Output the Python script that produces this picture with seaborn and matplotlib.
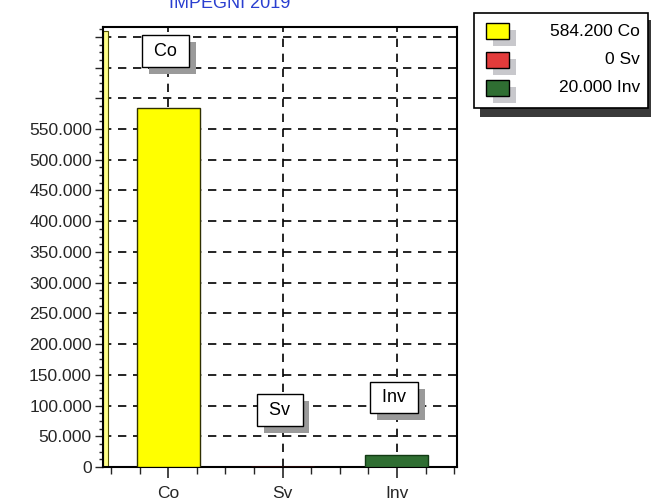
import matplotlib
matplotlib.use("Agg")
import matplotlib.pyplot as plt
import matplotlib.patheffects as pe
from matplotlib.patches import Rectangle
import numpy as np
import pandas as pd
import seaborn as sns

# dati del grafico
categorie = ["Co", "Sv", "Inv"]
valori = [584200, 0, 20000]
colori = ["#ffff00", "#e23b3b", "#2f6e32"]
bordi = ["#303000", "#a02020", "#123a14"]
titolo = "IMPEGNI 2019"
ytick_valori = list(range(0, 700001, 50000))

def fmt(v):
    return f"{v:,.0f}".replace(",", ".")

df = pd.DataFrame({"cat": categorie, "val": valori})

sns.set_theme(style="white")
plt.rcParams["font.family"] = ["Liberation Sans", "DejaVu Sans"]

W, H = 651, 503
fig = plt.figure(figsize=(W / 100, H / 100), dpi=100)
ax = fig.add_axes([103 / W, 1 - 467 / H, (457 - 103) / W, (467 - 27) / H])

sns.barplot(data=df, x="cat", y="val", hue="cat", palette=colori, legend=False,
            width=0.55, saturation=1, ax=ax, zorder=3, linewidth=1)
for p, ec in zip(ax.patches, bordi):
    p.set_edgecolor(ec)

ax.set_xlim(-0.57, 2.525)
ax.set_ylim(0, 716000)

# griglia tratteggiata
for v in ytick_valori[1:]:
    ax.axhline(v, color="black", lw=1.2, ls=(0, (5, 4)), zorder=1)
for i in range(len(categorie)):
    ax.axvline(i, color="black", lw=1.2, ls=(0, (5, 4)), zorder=1)

# parete sinistra gialla
ax.add_patch(Rectangle((0, 0), 0.014, 0.99, transform=ax.transAxes,
                       facecolor="#ffff88", edgecolor="#555500", lw=0.8, zorder=2))

ax.set_yticks(ytick_valori)
ax.set_yticklabels([fmt(v) if v <= 550000 else "" for v in ytick_valori], fontsize=12.5)
ax.set_yticks(np.arange(0, 716000, 12500), minor=True)
ax.set_xticks(range(len(categorie)))
ax.set_xticklabels(categorie, fontsize=12.5)
ax.set_xticks(np.arange(-0.5, 2.6, 0.25), minor=True)
ax.tick_params(axis="y", which="major", direction="out", length=6, width=1, pad=2, left=True)
ax.tick_params(axis="y", which="minor", direction="out", length=3, width=1, left=True)
ax.tick_params(axis="x", which="major", direction="out", length=8, width=1.2, pad=6, bottom=True)
ax.tick_params(axis="x", which="minor", direction="out", length=5, width=1, bottom=True)
ax.set_xlabel("")
ax.set_ylabel("")
for s in ax.spines.values():
    s.set_color("black")
    s.set_linewidth(1.5)

# etichette sopra le barre con ombra
for i, (c, v) in enumerate(zip(categorie, valori)):
    t = ax.annotate(" " + c + " ", xy=(i, v), xytext=(-2, 41), textcoords="offset points",
                    ha="center", va="center", fontsize=13, color="black", zorder=6,
                    bbox=dict(boxstyle="square,pad=0.4", fc="white", ec="black", lw=1))
    t.get_bbox_patch().set_path_effects([
        pe.SimplePatchShadow(offset=(5, -5), shadow_rgbFace="#9a9a9a", alpha=1),
        pe.Normal()])

# titolo (tagliato in alto)
fig.text(230 / W, 1 - 8 / H, titolo, ha="center", va="baseline",
         fontsize=13, color="#2a3fd0")

# legenda disegnata a mano
def rect(x0, y0, x1, y1, **kw):
    fig.add_artist(Rectangle((x0 / W, 1 - y1 / H), (x1 - x0) / W, (y1 - y0) / H,
                             transform=fig.transFigure, **kw))

rect(480, 20, 660, 117, facecolor="#3a3a3a", edgecolor="none")
rect(474, 13, 648, 108, facecolor="white", edgecolor="black", lw=1.2)
ys = [23, 52, 80]
for y0, c, v, col in zip(ys, categorie, valori, colori):
    rect(493, y0 + 7, 516, y0 + 23, facecolor="#c8c8cc", edgecolor="none")
    rect(486, y0, 509, y0 + 16, facecolor=col, edgecolor="black", lw=1)
    fig.text(640 / W, 1 - (y0 + 8) / H, f"{fmt(v)} {c}", ha="right", va="center",
             fontsize=12.5, color="black")

fig.savefig("out.png", dpi=100)
